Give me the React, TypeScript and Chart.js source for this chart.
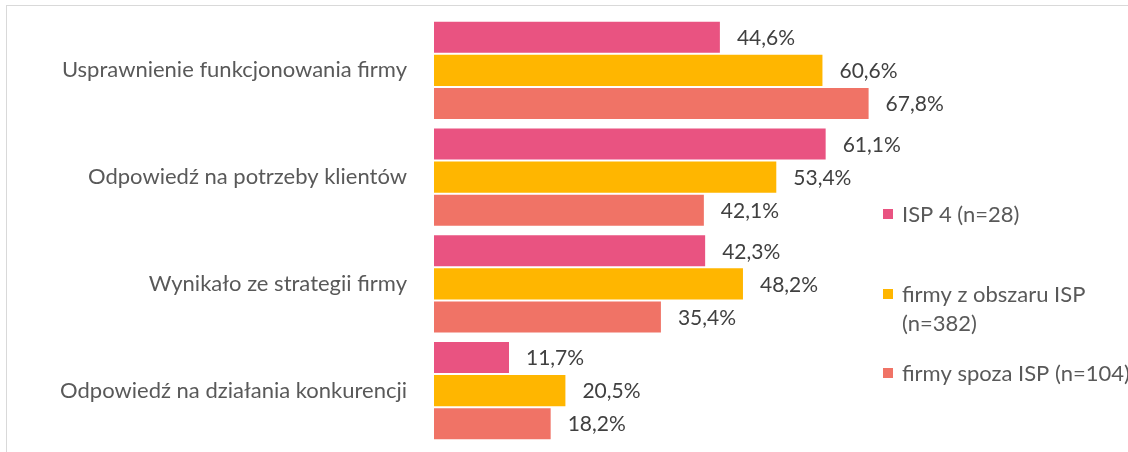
import React, { useEffect, useRef } from "react";
import { Chart, registerables } from "chart.js";

Chart.register(...registerables);

const categories = [
  "Usprawnienie funkcjonowania firmy",
  "Odpowiedź na potrzeby klientów",
  "Wynikało ze strategii firmy",
  "Odpowiedź na działania konkurencji",
];
const seriesNames = ["ISP 4 (n=28)", "firmy z obszaru ISP (n=382)", "firmy spoza ISP (n=104)"];
const legendLines = [["ISP 4 (n=28)"], ["firmy z obszaru ISP", "(n=382)"], ["firmy spoza ISP (n=104)"]];
const isp4 = [44.6, 61.1, 42.3, 11.7];
const obszarISP = [60.6, 53.4, 48.2, 20.5];
const spozaISP = [67.8, 42.1, 35.4, 18.2];
const colors = ["#E95381", "#FFB600", "#F07366"];

const FONT = "Lato, 'Open Sans', sans-serif";
const FS = 22;
const VFS = 21;

export default function App() {
  const ref = useRef<HTMLCanvasElement | null>(null);
  useEffect(() => {
    if (!ref.current) return;
    const labelPlugin = {
      id: "valueLabels",
      afterDatasetsDraw(chart: any) {
        const ctx = chart.ctx;
        ctx.save();
        ctx.font = `${VFS}px ${FONT}`;
        ctx.fillStyle = "#404040";
        ctx.textAlign = "left";
        ctx.textBaseline = "middle";
        chart.data.datasets.forEach((ds: any, i: number) => {
          const meta = chart.getDatasetMeta(i);
          meta.data.forEach((el: any, j: number) => {
            const v = ds.data[j] as number;
            ctx.fillText(v.toFixed(1).replace(".", ",") + "%", el.x + 17, el.y + 1);
          });
        });
        ctx.restore();
      },
    };
    const legendPlugin = {
      id: "customLegend",
      afterDraw(chart: any) {
        const ctx = chart.ctx;
        ctx.save();
        ctx.font = `${FS}px ${FONT}`;
        ctx.textBaseline = "middle";
        ctx.textAlign = "left";
        const ys = [214, 294, 373];
        const lh = 29;
        legendLines.forEach((lines, i) => {
          ctx.fillStyle = colors[i];
          ctx.fillRect(883, ys[i] - 5, 10, 10);
          ctx.fillStyle = "#595959";
          lines.forEach((t, k) => ctx.fillText(t, 902, ys[i] + k * lh + 1));
        });
        ctx.restore();
      },
    };
    const chart = new Chart(ref.current, {
      type: "bar",
      data: {
        labels: categories,
        datasets: [isp4, obszarISP, spozaISP].map((d, i) => ({
          label: seriesNames[i],
          data: d,
          backgroundColor: colors[i],
          borderWidth: 0,
          categoryPercentage: 0.928,
          barPercentage: 0.94,
        })),
      },
      options: {
        indexAxis: "y",
        animation: false,
        responsive: false,
        maintainAspectRatio: false,
        layout: { padding: { top: 17, bottom: 8, left: 0, right: 53 } },
        plugins: { legend: { display: false }, tooltip: { enabled: false } },
        scales: {
          x: { display: false, min: 0, max: 100 },
          y: {
            grid: { display: false, drawTicks: false },
            border: { display: false },
            ticks: {
              color: "#595959",
              font: { family: FONT, size: FS },
              padding: 27,
            },
            afterFit(scale: any) {
              scale.width = 434;
              scale.paddingTop = 0;
              scale.paddingBottom = 0;
            },
          },
        },
      },
      plugins: [labelPlugin, legendPlugin],
    });
    return () => chart.destroy();
  }, []);
  return (
    <div style={{ position: "fixed", left: 0, top: 0, width: 1128, height: 452, background: "#fff", overflow: "hidden" }}>
      <div style={{ position: "absolute", left: 6, top: 5, width: 1200, height: 500, borderTop: "1px solid #D9D9D9", borderLeft: "1px solid #D9D9D9" }} />
      <canvas ref={ref} width={1128} height={452} style={{ position: "absolute", left: 0, top: 0 }} />
    </div>
  );
}
